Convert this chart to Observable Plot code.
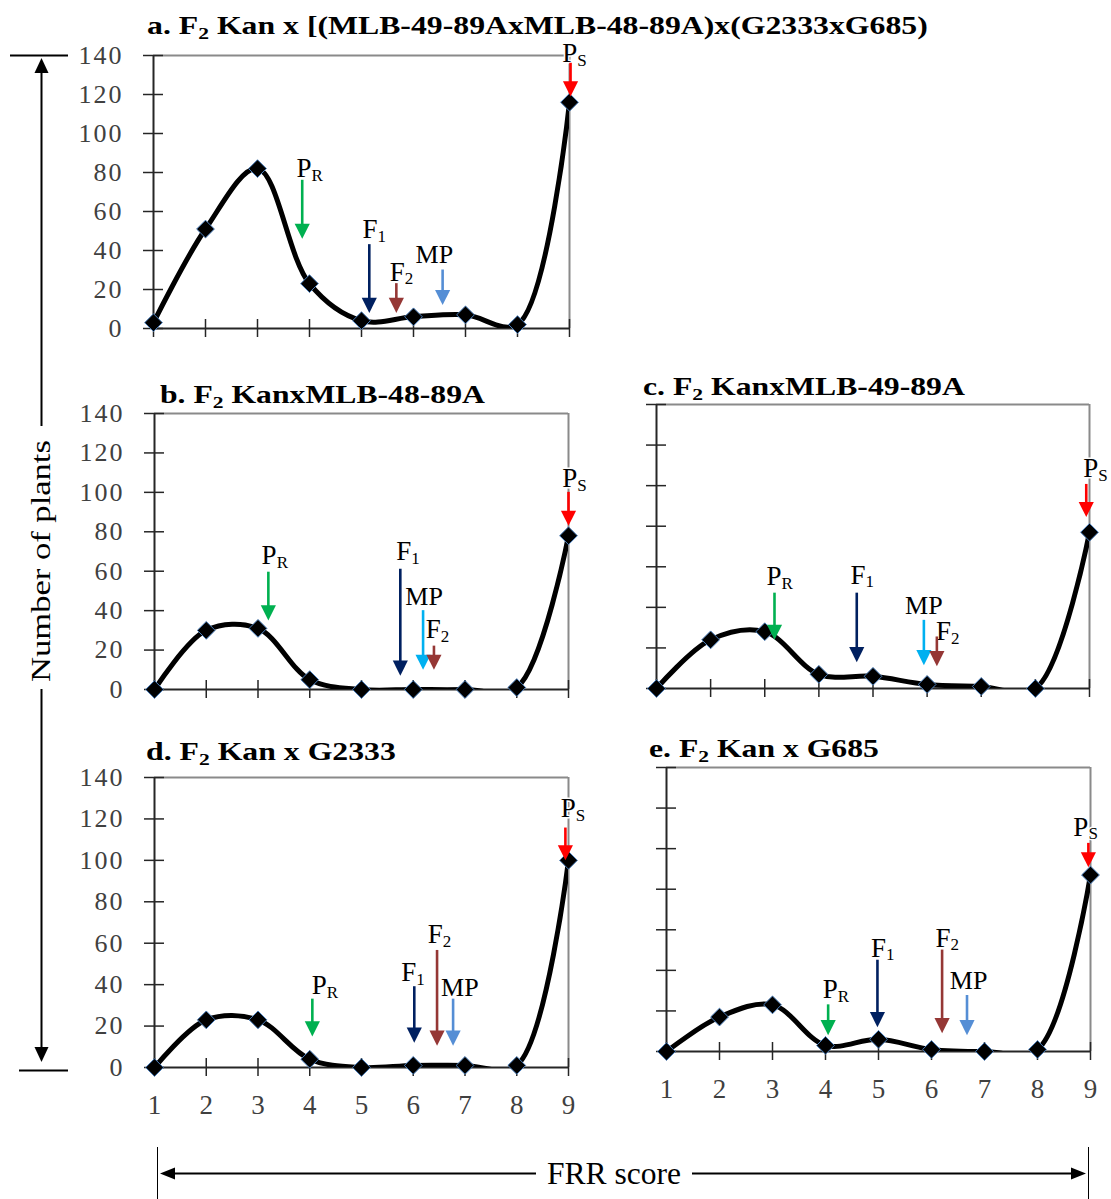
<!DOCTYPE html>
<html><head><meta charset="utf-8">
<script src="https://cdn.jsdelivr.net/npm/d3@7"></script>
<script src="https://cdn.jsdelivr.net/npm/@observablehq/plot@0.6"></script>
<style>
body{margin:0;background:#fff;}
#page{position:relative;width:1111px;height:1199px;overflow:hidden;font-family:"Liberation Serif","Times New Roman",serif;background:#fff;}
.panel{position:absolute;}
#deco{position:absolute;left:0;top:0;}
</style></head><body><div id="page"></div>
<script>
// ---------- data ----------
const scores = [1, 2, 3, 4, 5, 6, 7, 8, 9];
const yTicks = [0, 20, 40, 60, 80, 100, 120, 140];

const countsA = [3, 51, 82, 23, 4, 6, 7, 2, 116];
const countsB = [0, 30, 31, 5, 0, 0, 0, 1, 78];
const countsC = [0, 24, 28, 7, 6, 2, 1, 0, 77];
const countsD = [0, 23, 23, 4, 0, 1, 1, 1, 100];
const countsE = [0, 17, 23, 3, 6, 1, 0, 1, 87];

// marker arrows: x = FRR score, top/tip = plant counts, lx/ly = label anchor (data units)
const markersA = [
  {key: "PR", main: "P", sub: "R", x: 3.86, top: 76, tip: 46, lx: 4.04, ly: 82},
  {key: "F1", main: "F", sub: "1", x: 5.15, top: 43, tip: 8, lx: 5.31, ly: 51},
  {key: "F2", main: "F", sub: "2", x: 5.67, top: 23, tip: 8, lx: 5.83, ly: 29},
  {key: "MP", main: "MP", sub: "", x: 6.56, top: 30, tip: 12, lx: 6.4, ly: 38},
  {key: "PS", main: "P", sub: "S", x: 9.02, top: 136, tip: 119, lx: 9.15, ly: 141}
];
const markersB = [
  {key: "PR", main: "P", sub: "R", x: 3.2, top: 59.5, tip: 35, lx: 3.36, ly: 68},
  {key: "F1", main: "F", sub: "1", x: 5.75, top: 61, tip: 7, lx: 5.96, ly: 70},
  {key: "MP", main: "MP", sub: "", x: 6.19, top: 40, tip: 10, lx: 6.21, ly: 47},
  {key: "F2", main: "F", sub: "2", x: 6.4, top: 22, tip: 10, lx: 6.53, ly: 30.5},
  {key: "PS", main: "P", sub: "S", x: 9.0, top: 100, tip: 83, lx: 9.17, ly: 107}
];
const markersC = [
  {key: "PR", main: "P", sub: "R", x: 3.18, top: 47, tip: 24, lx: 3.31, ly: 55.4},
  {key: "F1", main: "F", sub: "1", x: 4.7, top: 47, tip: 13, lx: 4.86, ly: 56},
  {key: "MP", main: "MP", sub: "", x: 5.94, top: 33.6, tip: 11.5, lx: 5.94, ly: 41},
  {key: "F2", main: "F", sub: "2", x: 6.18, top: 25.4, tip: 11, lx: 6.44, ly: 28},
  {key: "PS", main: "P", sub: "S", x: 8.94, top: 100.6, tip: 84.5, lx: 9.16, ly: 108.5}
];
const markersD = [
  {key: "PR", main: "P", sub: "R", x: 4.05, top: 33, tip: 15, lx: 4.33, ly: 39.5},
  {key: "F1", main: "F", sub: "1", x: 6.02, top: 39, tip: 12, lx: 6.06, ly: 46},
  {key: "F2", main: "F", sub: "2", x: 6.46, top: 56.5, tip: 10.5, lx: 6.57, ly: 64.3},
  {key: "MP", main: "MP", sub: "", x: 6.77, top: 33, tip: 10.5, lx: 6.9, ly: 38.5},
  {key: "PS", main: "P", sub: "S", x: 8.94, top: 115.6, tip: 100, lx: 9.14, ly: 125}
];
const markersE = [
  {key: "PR", main: "P", sub: "R", x: 4.05, top: 23, tip: 8, lx: 4.23, ly: 30.5},
  {key: "F1", main: "F", sub: "1", x: 4.98, top: 45, tip: 12, lx: 5.14, ly: 51},
  {key: "F2", main: "F", sub: "2", x: 6.2, top: 50, tip: 9, lx: 6.36, ly: 56},
  {key: "MP", main: "MP", sub: "", x: 6.67, top: 27.6, tip: 8, lx: 6.7, ly: 35},
  {key: "PS", main: "P", sub: "S", x: 8.96, top: 102.6, tip: 90.8, lx: 8.96, ly: 110.7}
];

const titleA = [["a. F", 0], ["2", 1], [" Kan x [(MLB-49-89AxMLB-48-89A)x(G2333xG685)", 0]];
const titleB = [["b. F", 0], ["2", 1], [" KanxMLB-48-89A", 0]];
const titleC = [["c. F", 0], ["2", 1], [" KanxMLB-49-89A", 0]];
const titleD = [["d. F", 0], ["2", 1], [" Kan x G2333", 0]];
const titleE = [["e. F", 0], ["2", 1], [" Kan x G685", 0]];

const yAxisTitle = "Number of plants";
const xAxisTitle = "FRR score";

// ---------- styles ----------
const markerColors = {PR: "#00b050", F1: "#002060", F2: "#953735", MP: "#558ed5", PS: "#ff0000"};
const SERIF = "Liberation Serif, Times New Roman, serif";

const panels = [
  {counts: countsA, markers: markersA, title: titleA, left: 153, right: 569, top: 55, bottom: 328, showY: true, showX: false, mpColor: "#558ed5", tx: 147, ty: 34, tw: 781},
  {counts: countsB, markers: markersB, title: titleB, left: 154, right: 568, top: 413, bottom: 689, showY: true, showX: false, mpColor: "#00b0f0", tx: 160, ty: 403, tw: 325},
  {counts: countsC, markers: markersC, title: titleC, left: 656, right: 1089, top: 404, bottom: 688, showY: false, showX: false, mpColor: "#00b0f0", tx: 643, ty: 395, tw: 322},
  {counts: countsD, markers: markersD, title: titleD, left: 154, right: 568, top: 777, bottom: 1067, showY: true, showX: true, mpColor: "#558ed5", tx: 146, ty: 760, tw: 250},
  {counts: countsE, markers: markersE, title: titleE, left: 666, right: 1090, top: 767, bottom: 1051, showY: false, showX: true, mpColor: "#558ed5", tx: 649, ty: 757, tw: 230}
];

// down-pointing filled arrow head with its tip at the anchor point
const headDown = {
  draw(ctx, size) {
    const h = Math.sqrt(size) * 1.5, w = h * 0.5;
    ctx.moveTo(0, 0); ctx.lineTo(-w, -h); ctx.lineTo(w, -h); ctx.closePath();
  }
};

const page = document.getElementById("page");
const NS = "http://www.w3.org/2000/svg";

// ---------- decoration overlay (titles, outer axis titles and arrows) ----------
const deco = document.createElementNS(NS, "svg");
deco.setAttribute("id", "deco");
deco.setAttribute("width", 1111);
deco.setAttribute("height", 1199);
page.appendChild(deco);

function el(name, attrs, parent) {
  const e = document.createElementNS(NS, name);
  for (const k in attrs) e.setAttribute(k, attrs[k]);
  (parent || deco).appendChild(e);
  return e;
}

function fitText(parts, {x, y, size, weight, width, anchor = "start", rotate = 0}) {
  const g = el("g", {});
  const t = el("text", {"font-family": SERIF, "font-size": size, "font-weight": weight || "normal", fill: "#000"}, g);
  let shift = 0;
  for (const [s, sub] of parts) {
    const sp = el("tspan", {}, t);
    if (sub) { sp.setAttribute("font-size", size * 0.68); sp.setAttribute("dy", size * 0.2 - shift); shift = size * 0.2; }
    else { sp.setAttribute("dy", -shift); shift = 0; }
    sp.textContent = s;
  }
  const w0 = t.getComputedTextLength();
  const sx = width / w0;
  const ox = anchor === "middle" ? -width / 2 : 0;
  g.setAttribute("transform", `translate(${x},${y}) rotate(${rotate}) translate(${ox},0) scale(${sx},1)`);
}

panels.forEach(p => fitText(p.title, {x: p.tx, y: p.ty, size: 26, weight: "bold", width: p.tw}));
fitText([[yAxisTitle, 0]], {x: 50, y: 561, size: 28, width: 242, anchor: "middle", rotate: -90});
fitText([[xAxisTitle, 0]], {x: 614, y: 1184, size: 31, width: 134, anchor: "middle"});

// vertical outer arrow
const LX = 41.5;
el("line", {x1: 10, x2: 68, y1: 55.5, y2: 55.5, stroke: "#000", "stroke-width": 2});
el("line", {x1: 19, x2: 68, y1: 1070.5, y2: 1070.5, stroke: "#000", "stroke-width": 2});
el("line", {x1: LX, x2: LX, y1: 70, y2: 426, stroke: "#000", "stroke-width": 2});
el("line", {x1: LX, x2: LX, y1: 689, y2: 1050, stroke: "#000", "stroke-width": 2});
el("path", {d: `M${LX},58 L${LX - 7},73 L${LX + 7},73 Z`, fill: "#000"});
el("path", {d: `M${LX},1062 L${LX - 7},1047 L${LX + 7},1047 Z`, fill: "#000"});
// horizontal outer arrow
const AY = 1173.5;
el("line", {x1: 157.5, x2: 157.5, y1: 1147, y2: 1199, stroke: "#000", "stroke-width": 1});
el("line", {x1: 1088.5, x2: 1088.5, y1: 1147, y2: 1199, stroke: "#000", "stroke-width": 1});
el("line", {x1: 172, x2: 536, y1: AY, y2: AY, stroke: "#000", "stroke-width": 2});
el("line", {x1: 692, x2: 1074, y1: AY, y2: AY, stroke: "#000", "stroke-width": 2});
el("path", {d: `M160,${AY} L175,${AY - 6} L175,${AY + 6} Z`, fill: "#000"});
el("path", {d: `M1086,${AY} L1071,${AY - 6} L1071,${AY + 6} Z`, fill: "#000"});

// ---------- panels ----------
function drawPanel(cfg) {
  const mL = 100, mR = 50, mT = 50, mB = 60;
  const W = cfg.right - cfg.left, H = cfg.bottom - cfg.top;
  const pts = scores.map((s, i) => ({score: s, count: cfg.counts[i]}));
  const col = d => d.key === "MP" ? cfg.mpColor : markerColors[d.key];
  const withSub = cfg.markers.filter(d => d.sub);
  const noSub = cfg.markers.filter(d => !d.sub);
  const chart = Plot.plot({
    width: W + mL + mR, height: H + mT + mB,
    marginLeft: mL, marginRight: mR, marginTop: mT, marginBottom: mB,
    x: {domain: [1, 9], label: null},
    y: {domain: [0, 140], label: null},
    color: {type: "identity"},
    style: {fontFamily: SERIF, fontSize: "26px", background: "transparent", overflow: "visible", maxWidth: "none", color: "#404040"},
    marks: [
      Plot.ruleY([140], {stroke: "#8a8a8a", strokeWidth: 2}),
      Plot.ruleX([9], {stroke: "#8a8a8a", strokeWidth: 2}),
      Plot.axisY({ticks: yTicks, tickSize: 20, dx: 10, tickFormat: () => "", stroke: "#262626", strokeWidth: 1.5, label: null}),
      Plot.axisX({ticks: scores, tickSize: 18, dy: -9, tickFormat: () => "", stroke: "#262626", strokeWidth: 1.5, label: null}),
      cfg.showY ? Plot.axisY({ticks: yTicks, tickSize: 0, tickPadding: 30, fontSize: 26, fill: "#404040", label: null}) : null,
      cfg.showX ? Plot.axisX({ticks: scores, tickSize: 0, tickPadding: 27, fontSize: 27, fill: "#404040", label: null}) : null,
      Plot.ruleX([1], {stroke: "#262626", strokeWidth: 2}),
      Plot.ruleY([0], {stroke: "#262626", strokeWidth: 2}),
      Plot.text(withSub, {x: "lx", y: "ly", text: "main", textAnchor: "end", fontSize: 27, fill: "#000", stroke: "white", strokeWidth: 3, paintOrder: "stroke"}),
      Plot.text(withSub, {x: "lx", y: "ly", text: "sub", textAnchor: "start", dy: 7, fontSize: 17, fill: "#000", stroke: "white", strokeWidth: 3, paintOrder: "stroke"}),
      Plot.text(noSub, {x: "lx", y: "ly", text: "main", textAnchor: "middle", fontSize: 26, fill: "#000", stroke: "white", strokeWidth: 3, paintOrder: "stroke"}),
      Plot.line(pts, {x: "score", y: "count", curve: "catmull-rom", stroke: "#000", strokeWidth: 5, clip: true}),
      Plot.dot(pts, {x: "score", y: "count", symbol: "diamond2", r: 8, fill: "#000", stroke: "#4a7ebb", strokeWidth: 1}),
      Plot.ruleX(cfg.markers, {x: "x", y1: "top", y2: "tip", stroke: col, strokeWidth: 2.6, insetBottom: 8}),
      Plot.dot(cfg.markers, {x: "x", y: "tip", symbol: headDown, r: 5.7, fill: col, stroke: "none"})
    ]
  });
  chart.querySelectorAll('[aria-label="y-axis tick label"] text').forEach(t => t.setAttribute("letter-spacing", "2"));
  const div = document.createElement("div");
  div.className = "panel";
  div.style.left = (cfg.left - mL) + "px";
  div.style.top = (cfg.top - mT) + "px";
  div.appendChild(chart);
  page.appendChild(div);
}
panels.forEach(drawPanel);
</script>
</body></html>
